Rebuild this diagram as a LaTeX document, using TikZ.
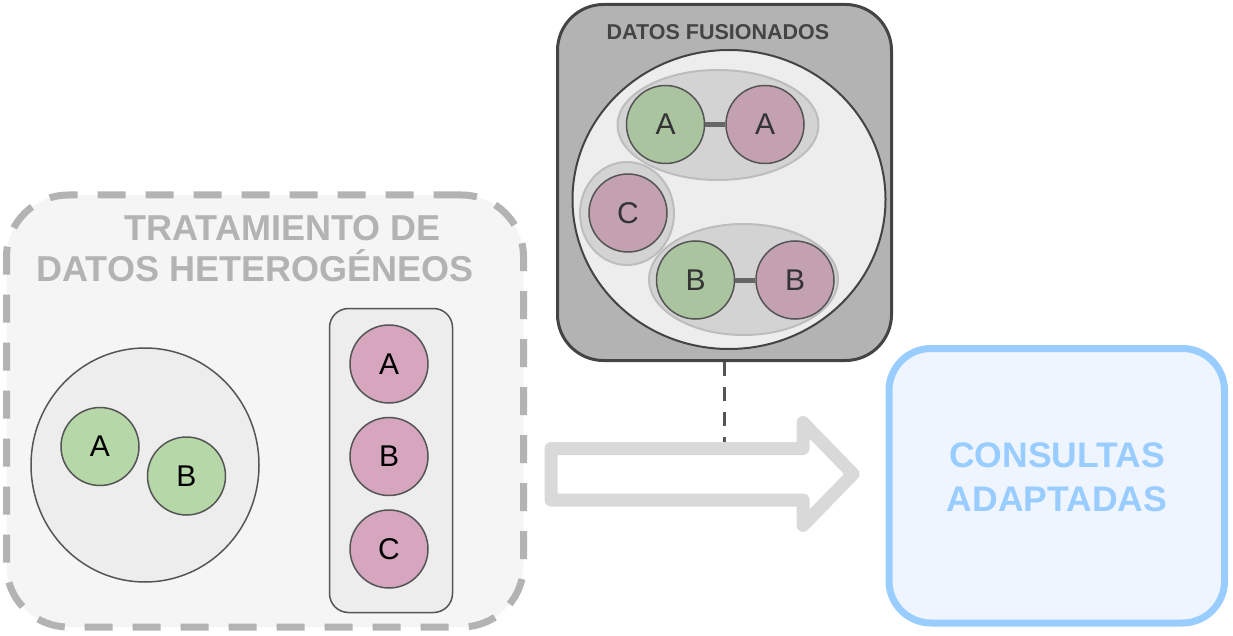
\documentclass[tikz,border=0pt]{standalone}
\usepackage{fontspec}
\setmainfont{Liberation Sans}
\usetikzlibrary{shapes,positioning}

\definecolor{panelline}{HTML}{B3B3B3}
\definecolor{panelbg}{HTML}{F5F5F5}
\definecolor{setbg}{HTML}{EDEDED}
\definecolor{rim}{HTML}{555555}
\definecolor{darkrim}{HTML}{444444}
\definecolor{srcgreen}{HTML}{B6D7A8}
\definecolor{srcpink}{HTML}{D5A6BD}
\definecolor{fusegreen}{HTML}{AAC4A0}
\definecolor{fusepink}{HTML}{C4A1B1}
\definecolor{grpbg}{HTML}{D3D3D3}
\definecolor{grpline}{HTML}{BDBDBD}
\definecolor{arrowgray}{HTML}{D9D9D9}
\definecolor{querybg}{HTML}{EEF5FF}
\definecolor{queryline}{HTML}{99CCFF}

\tikzset{panel/.style={
    rectangle,rounded corners=62pt,
    line width=7pt,draw=panelline,fill=panelbg,
    dash pattern=on 28pt off 20pt,
    minimum width=517pt,minimum height=432pt}
}
\tikzset{paneltitle/.style={
    align=center,text=panelline,
    font=\fontsize{36pt}{41pt}\selectfont\bfseries}
}
\tikzset{setshape/.style={
    ellipse,inner sep=0pt,
    line width=1.5pt,draw=rim,fill=setbg}
}
\tikzset{entity/.style={
    circle,minimum size=78pt,inner sep=0pt,
    line width=1.5pt,draw=rim,
    font=\fontsize{30pt}{36pt}\selectfont},
  srcg/.style={entity,fill=srcgreen},
  srcp/.style={entity,fill=srcpink},
  fuseg/.style={entity,fill=fusegreen,text=black!80},
  fusep/.style={entity,fill=fusepink,text=black!80},
  group/.style={ellipse,inner sep=0pt,line width=2pt,draw=grpline,fill=grpbg},
  link/.style={line width=5pt,draw=black!60},
  tether/.style={line width=3pt,draw=rim,dash pattern=on 14pt off 11pt},
  bigarrow/.style={line width=13pt,draw=arrowgray,fill=white,line join=round}
}

\begin{document}
\begin{tikzpicture}[x=1pt,y=-1pt]
  \useasboundingbox (0,0) rectangle (1233,636);

  % heterogeneous data
  \node (panel) [panel] at (265,411) {};
  \node (ptitle) [paneltitle] at (255,249)
    {\hspace*{55pt}TRATAMIENTO DE\\DATOS HETEROGÉNEOS};
  \node (lset) [setshape,minimum width=228pt,minimum height=234pt] at (145,465) {};
  \node (la) [srcg] at (100,446.5) {A};
  \node (lb) [srcg] at (186.5,476) {B};
  \node (src) [rectangle,rounded corners=19pt,line width=1.5pt,draw=rim,fill=setbg,
    minimum width=123pt,minimum height=304pt] at (391,460.5) {};
  \node (pa) [srcp] at (389,364) {A};
  \node (pb) [srcp,below=13pt of pa] {B};
  \node (pc) [srcp,below=13pt of pb] {C};

  % fused data
  \node (fused) [rectangle,rounded corners=46pt,line width=3pt,draw=darkrim,fill=panelline,
    minimum width=334pt,minimum height=356pt] at (724.5,182.5) {};
  \node (ftitle) [text=darkrim,font=\fontsize{21.5pt}{25pt}\selectfont\bfseries]
    at (718,32.5) {DATOS FUSIONADOS};
  \node (fset) [setshape,line width=2pt,draw=darkrim,fill=black!7,
    minimum width=313pt,minimum height=299pt] at (729,199.5) {};
  \node (gaa) [group,minimum width=201pt,minimum height=110pt] at (718,125) {};
  \node (gc) [group,minimum width=94pt,minimum height=103pt] at (627,213.5) {};
  \node (gbb) [group,minimum width=189pt,minimum height=111pt] at (743.5,279.5) {};
  \node (fga) [fuseg] at (665.5,124.5) {A};
  \node (fpa) [fusep,right=20pt of fga] {A};
  \node (fpc) [fusep] at (628,213) {C};
  \node (fgb) [fuseg] at (695.5,280) {B};
  \node (fpb) [fusep,right=20pt of fgb] {B};
  \draw[link] (fga) -- (fpa);
  \draw[link] (fgb) -- (fpb);

  % transfer arrow
  \draw[bigarrow] (551,448.5) -- (803,448.5) -- (803,422.5) -- (853,474)
    -- (803,525.5) -- (803,500) -- (551,500) -- cycle;
  \coordinate (shafttop) at (725,442);
  \draw[tether] (fused.south) -- (fused.south |- shafttop);

  % queries
  \node (query) [rectangle,rounded corners=42pt,line width=7pt,draw=queryline,fill=querybg,
    minimum width=335.5pt,minimum height=274.5pt] at (1056.75,485.75) {};
  \node (qtext) [align=center,text=queryline,font=\fontsize{35.5pt}{44.5pt}\selectfont\bfseries]
    at (1057,477.5) {CONSULTAS\\ADAPTADAS};
\end{tikzpicture}
\end{document}
